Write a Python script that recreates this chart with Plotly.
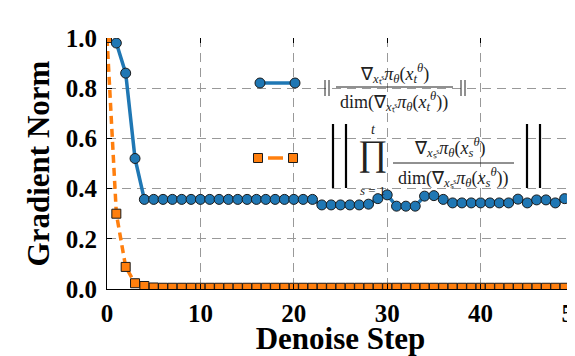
import plotly.graph_objects as go

# ---------------- data ----------------
steps_blue = list(range(1, 50))
norm_blue = [0.98, 0.86, 0.52,
             0.357, 0.357, 0.357, 0.357, 0.357, 0.357, 0.357, 0.357, 0.357, 0.357,
             0.357, 0.357, 0.357, 0.357, 0.357, 0.357, 0.357, 0.357, 0.357,
             0.335, 0.335, 0.335, 0.335, 0.335, 0.338,
             0.36, 0.375,
             0.33, 0.33, 0.33,
             0.37, 0.372, 0.357,
             0.343, 0.343, 0.343, 0.343, 0.343, 0.343, 0.343,
             0.358, 0.343, 0.355, 0.355, 0.343, 0.36]

steps_orange = list(range(0, 50))
norm_orange = [1.0, 0.30, 0.088, 0.023, 0.012, 0.006,
               0.005, 0.005, 0.005, 0.005, 0.005, 0.005, 0.005, 0.005, 0.005,
               0.005, 0.005, 0.005, 0.005, 0.005, 0.005, 0.005, 0.005, 0.005,
               0.005, 0.005, 0.005, 0.005, 0.005, 0.005, 0.005, 0.005, 0.005,
               0.005, 0.005, 0.005, 0.005, 0.005, 0.005, 0.005, 0.005, 0.005,
               0.005, 0.005, 0.005, 0.005, 0.005, 0.005, 0.005, 0.005]

x_ticks = [0, 10, 20, 30, 40, 50]
y_ticks = [0.0, 0.2, 0.4, 0.6, 0.8, 1.0]
y_tick_labels = ["0.0", "0.2", "0.4", "0.6", "0.8", "1.0"]

BLUE = "#1f77b4"
ORANGE = "#ff7f0e"
EDGE = "#1a1a1a"

# ---------------- layout geometry (window pixels) ----------------
OFF = 8                      # default body margin of the html page
WIDTH, HEIGHT = 575 - OFF, 356 - OFF
L, R, T, B = 107, 574, 38, 289


def px(x):
    return (x - L) / (R - L)


def py(y):
    return (B - y) / (B - T)


fig = go.Figure()

fig.add_trace(go.Scatter(
    x=steps_orange, y=norm_orange, mode="lines+markers",
    line=dict(color=ORANGE, width=3.5, dash="8px,5px"),
    marker=dict(symbol="square", size=9, color=ORANGE, line=dict(color=EDGE, width=1)),
    showlegend=False, hoverinfo="skip"))

fig.add_trace(go.Scatter(
    x=steps_blue, y=norm_blue, mode="lines+markers",
    line=dict(color=BLUE, width=3.5),
    marker=dict(symbol="circle", size=10, color=BLUE, line=dict(color=EDGE, width=1)),
    showlegend=False, hoverinfo="skip"))

# invisible trace to carry the top (mirrored tick) axis
fig.add_trace(go.Scatter(
    x=steps_blue, y=norm_blue, xaxis="x2", mode="markers",
    marker=dict(opacity=0), showlegend=False, hoverinfo="skip"))

TICKFONT = dict(family="Liberation Serif", size=25, color="black", weight="bold")
TITLEFONT = dict(family="Liberation Serif", size=31, color="black", weight="bold")
GRID = dict(showgrid=True, gridcolor="#999999", griddash="9px,6px", gridwidth=1)

fig.update_layout(
    width=WIDTH, height=HEIGHT,
    margin=dict(l=L - OFF, r=575 - R, t=T - OFF, b=356 - B, autoexpand=False),
    paper_bgcolor="white", plot_bgcolor="white",
    xaxis=dict(range=[0, 50], tickvals=x_ticks, ticktext=[str(v) for v in x_ticks],
               ticks="inside", ticklen=5, tickcolor="black", tickwidth=1,
               showline=True, linecolor="black", linewidth=1, zeroline=False,
               tickfont=TICKFONT, ticklabelstandoff=2, ticklabeloverflow="allow",
               title=dict(text="Denoise Step", font=TITLEFONT, standoff=2),
               automargin=False, **GRID),
    xaxis2=dict(range=[0, 50], overlaying="x", side="top", tickvals=x_ticks,
                ticks="inside", ticklen=5, tickcolor="black", showticklabels=False,
                showgrid=False, zeroline=False, showline=False),
    yaxis=dict(range=[0, 1], tickvals=y_ticks, ticktext=y_tick_labels,
               ticks="inside", ticklen=5, tickcolor="black", tickwidth=1,
               showline=True, linecolor="black", linewidth=1, zeroline=False,
               tickfont=TICKFONT, ticklabelstandoff=4, ticklabeloverflow="allow",
               title=dict(text="Gradient Norm", font=TITLEFONT, standoff=6),
               automargin=False, **GRID),
)

# ---------------- hand-drawn legend ----------------
shapes = []
TXT = "#222222"
# entry 1 : blue line with two circles
shapes.append(dict(type="line", xref="paper", yref="paper", x0=px(260), x1=px(295),
                   y0=py(83), y1=py(83), line=dict(color=BLUE, width=3.5), layer="above"))
for cx in (260, 295):
    shapes.append(dict(type="circle", xref="paper", yref="paper", xsizemode="pixel",
                       ysizemode="pixel", xanchor=px(cx), yanchor=py(83),
                       x0=-5, x1=5, y0=-5, y1=5, fillcolor=BLUE,
                       line=dict(color=EDGE, width=1), layer="above"))
# entry 2 : orange dashed line with two squares
shapes.append(dict(type="line", xref="paper", yref="paper", x0=px(268), x1=px(283),
                   y0=py(158), y1=py(158), line=dict(color=ORANGE, width=3.5), layer="above"))
for cx in (258, 293):
    shapes.append(dict(type="rect", xref="paper", yref="paper", xsizemode="pixel",
                       ysizemode="pixel", xanchor=px(cx), yanchor=py(158),
                       x0=-4.5, x1=4.5, y0=-4.5, y1=4.5, fillcolor=ORANGE,
                       line=dict(color=EDGE, width=1), layer="above"))

# norm bars entry 1 (small)
for xb in (325, 329, 461, 465):
    shapes.append(dict(type="line", xref="paper", yref="paper", x0=px(xb), x1=px(xb),
                       y0=py(80), y1=py(96), line=dict(color=TXT, width=1), layer="above"))
# fraction bar entry 1
shapes.append(dict(type="line", xref="paper", yref="paper", x0=px(336), x1=px(453),
                   y0=py(87), y1=py(87), line=dict(color=TXT, width=1), layer="above"))
# norm bars entry 2 (large)
for xb in (333, 346, 527, 540):
    shapes.append(dict(type="line", xref="paper", yref="paper", x0=px(xb), x1=px(xb),
                       y0=py(124), y1=py(188), line=dict(color="black", width=2.2), layer="above"))
# fraction bar entry 2
shapes.append(dict(type="line", xref="paper", yref="paper", x0=px(393), x1=px(514),
                   y0=py(163), y1=py(163), line=dict(color=TXT, width=1), layer="above"))

fig.update_layout(shapes=shapes)

MF = dict(family="Liberation Serif", size=18, color=TXT)


def ann(x, y, text, size=18):
    f = dict(MF)
    f["size"] = size
    fig.add_annotation(x=px(x), y=py(y), xref="paper", yref="paper", text=text,
                       showarrow=False, xanchor="center", yanchor="middle", font=f)


num1 = "∇<sub><i>x</i>ₜˢ</sub><i>π</i><sub><i>θ</i></sub>(<i>x</i><sub><i>t</i></sub><sup><i>θ</i></sup>)"
den1 = "dim(∇<sub><i>x</i>ₜˢ</sub><i>π</i><sub><i>θ</i></sub>(<i>x</i><sub><i>t</i></sub><sup><i>θ</i></sup>))"
num2 = "∇<sub><i>x</i>ₛˢ</sub><i>π</i><sub><i>θ</i></sub>(<i>x</i><sub><i>s</i></sub><sup><i>θ</i></sup>)"
den2 = "dim(∇<sub><i>x</i>ₛˢ</sub><i>π</i><sub><i>θ</i></sub>(<i>x</i><sub><i>s</i></sub><sup><i>θ</i></sup>))"

ann(394, 73, num1)
ann(394, 101, den1)
ann(450, 147, num2)
ann(453, 177, den2)
ann(373, 153, "∏", size=36)
ann(373, 129, "<i>t</i>", size=14)
ann(372, 190, "<i>s</i> = 1", size=13)

fig.write_html("out.html")
